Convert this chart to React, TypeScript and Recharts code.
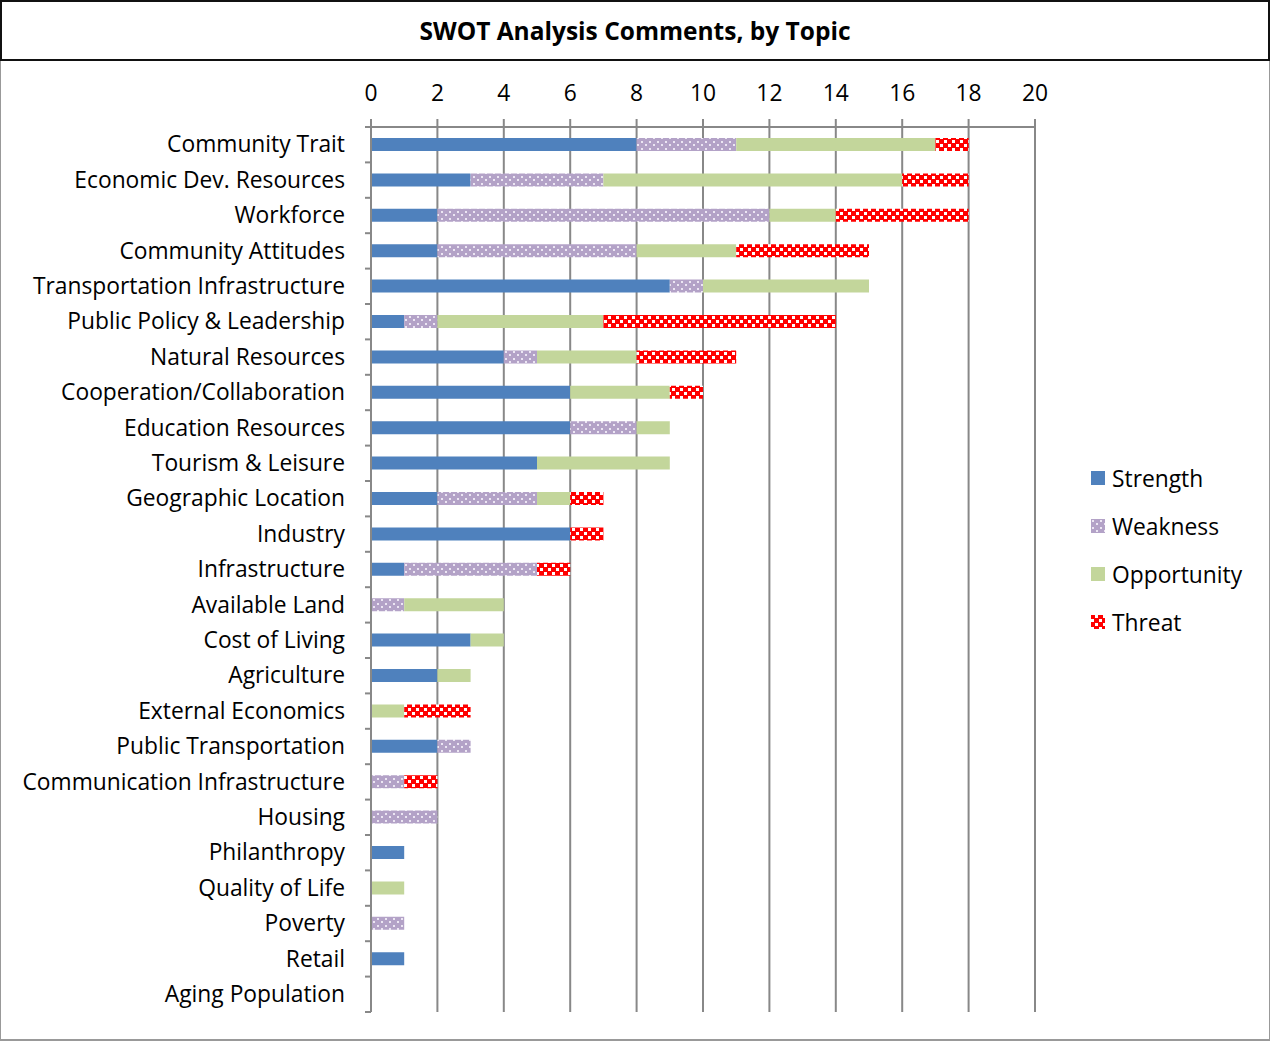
import React from 'react';
import { BarChart, Bar, XAxis, YAxis, CartesianGrid } from 'recharts';

const categories = [
  'Community Trait', 'Economic Dev. Resources', 'Workforce', 'Community Attitudes',
  'Transportation Infrastructure', 'Public Policy & Leadership', 'Natural Resources',
  'Cooperation/Collaboration', 'Education Resources', 'Tourism & Leisure',
  'Geographic Location', 'Industry', 'Infrastructure', 'Available Land', 'Cost of Living',
  'Agriculture', 'External Economics', 'Public Transportation', 'Communication Infrastructure',
  'Housing', 'Philanthropy', 'Quality of Life', 'Poverty', 'Retail', 'Aging Population',
];
const strength =    [8, 3, 2, 2, 9, 1, 4, 6, 6, 5, 2, 6, 1, 0, 3, 2, 0, 2, 0, 0, 1, 0, 0, 1, 0];
const weakness =    [3, 4, 10, 6, 1, 1, 1, 0, 2, 0, 3, 0, 4, 1, 0, 0, 0, 1, 1, 2, 0, 0, 1, 0, 0];
const opportunity = [6, 9, 2, 3, 5, 5, 3, 3, 1, 4, 1, 0, 0, 3, 1, 1, 1, 0, 0, 0, 0, 1, 0, 0, 0];
const threat =      [1, 2, 4, 4, 0, 7, 3, 1, 0, 0, 1, 1, 1, 0, 0, 0, 2, 0, 1, 0, 0, 0, 0, 0, 0];
const xTicks = [0, 2, 4, 6, 8, 10, 12, 14, 16, 18, 20];
const seriesNames = ['Strength', 'Weakness', 'Opportunity', 'Threat'];

const data = categories.map((c, i) => ({
  name: c,
  Strength: strength[i],
  Weakness: weakness[i],
  Opportunity: opportunity[i],
  Threat: threat[i],
}));

const FONT = '"Open Sans", Lato, sans-serif';
const FS = 22.8;
const HALF_BAND = 885 / categories.length / 2;

const Patterns = ({ prefix }: { prefix: string }) => (
  <defs>
    <pattern id={`${prefix}dots`} width="8" height="7" patternUnits="userSpaceOnUse">
      <rect width="8" height="7" fill="#b3a2c7" />
      <rect x="1" y="1" width="2" height="2" fill="#ece6f3" />
      <rect x="5" y="4" width="2" height="2" fill="#ece6f3" />
    </pattern>
    <pattern id={`${prefix}check`} width="8" height="8" patternUnits="userSpaceOnUse">
      <rect width="8" height="8" fill="#ff0000" />
      <rect x="4" y="0" width="3" height="3" fill="#ffffff" />
      <rect x="0" y="4" width="3" height="3" fill="#ffffff" />
    </pattern>
  </defs>
);

const YTick = (props: any) => {
  const { x, y, payload, index } = props;
  const ax = x + 26;
  return (
    <g>
      <text x={x} y={y - 0.8} textAnchor="end" dominantBaseline="central" fontSize={FS} fontFamily={FONT} fill="#000">
        {payload.value}
      </text>
      <line x1={ax - 6} x2={ax} y1={y - HALF_BAND} y2={y - HALF_BAND} stroke="#888" strokeWidth={2} />
      {index === categories.length - 1 && (
        <line x1={ax - 6} x2={ax} y1={y + HALF_BAND} y2={y + HALF_BAND} stroke="#888" strokeWidth={2} />
      )}
    </g>
  );
};

const swatchFill: Record<string, string> = {
  Strength: '#4f81bd',
  Weakness: 'url(#lg-dots)',
  Opportunity: '#c3d69b',
  Threat: 'url(#lg-check)',
};

const LegendSwatch = ({ kind }: { kind: string }) => (
  <svg width={14} height={14} style={{ display: 'block' }}>
    <Patterns prefix="lg-" />
    <rect width={14} height={14} fill={swatchFill[kind]} />
  </svg>
);

export default function App() {
  return (
    <div style={{ position: 'absolute', left: 0, top: 0, width: 1270, height: 1042, background: '#fff', fontFamily: FONT }}>
      <div style={{ position: 'absolute', left: 0, top: 0, width: 1270, height: 1041, boxSizing: 'border-box', borderLeft: '1px solid #999', borderRight: '1px solid #999', borderBottom: '2px solid #999' }} />
      <div style={{ position: 'absolute', left: 0, top: 0, width: 1270, height: 61, boxSizing: 'border-box', border: '2px solid #111', display: 'flex', alignItems: 'center', justifyContent: 'center', fontWeight: 'bold', fontSize: 24.5, color: '#000', paddingBottom: 1 }}>
        SWOT Analysis Comments, by Topic
      </div>
      <div style={{ position: 'absolute', left: 0, top: 0 }}>
        <BarChart
          width={1270}
          height={1042}
          data={data}
          layout="vertical"
          barSize={13}
          margin={{ top: 67, right: 235, bottom: 30, left: 0 }}
        >
          <Patterns prefix="" />
          <CartesianGrid horizontal={false} vertical stroke="#888" strokeWidth={2} />
          <XAxis
            type="number"
            orientation="top"
            domain={[0, 20]}
            ticks={xTicks}
            height={60}
            tickSize={8}
            tickMargin={18}
            stroke="#888"
            strokeWidth={2}
            tick={{ fontSize: FS, fontFamily: FONT, fill: '#000' }}
            interval={0}
          />
          <YAxis
            type="category"
            dataKey="name"
            width={371}
            tickSize={0}
            tickMargin={26}
            stroke="#888"
            strokeWidth={2}
            tick={<YTick />}
            interval={0}
          />
          <Bar dataKey="Strength" stackId="a" fill="#4f81bd" isAnimationActive={false} />
          <Bar dataKey="Weakness" stackId="a" fill="url(#dots)" isAnimationActive={false} />
          <Bar dataKey="Opportunity" stackId="a" fill="#c3d69b" isAnimationActive={false} />
          <Bar dataKey="Threat" stackId="a" fill="url(#check)" isAnimationActive={false} />
        </BarChart>
      </div>
      <div style={{ position: 'absolute', left: 1091, top: 454 }}>
        {seriesNames.map((s) => (
          <div key={s} style={{ display: 'flex', alignItems: 'center', height: 48, fontSize: FS, color: '#000' }}>
            <LegendSwatch kind={s} />
            <span style={{ marginLeft: 7 }}>{s}</span>
          </div>
        ))}
      </div>
    </div>
  );
}
